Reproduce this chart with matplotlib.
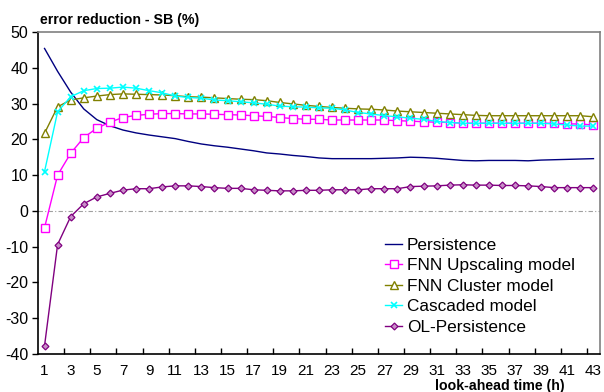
import matplotlib.pyplot as plt
import numpy as np

plt.rcParams['font.family'] = ['Liberation Sans', 'DejaVu Sans']
plt.rcParams['axes.unicode_minus'] = False

hours = list(range(1, 44))

persistence = [45.4, 39.0, 33.2, 28.5, 25.5, 23.8, 22.6, 21.8, 21.2, 20.7,
               20.2, 19.4, 18.7, 18.2, 17.8, 17.3, 16.8, 16.2, 15.9, 15.5,
               15.2, 14.8, 14.6, 14.6, 14.6, 14.6, 14.7, 14.8, 15.0, 14.9,
               14.7, 14.4, 14.1, 14.0, 14.1, 14.1, 14.1, 14.0, 14.2, 14.3,
               14.4, 14.5, 14.6]

fnn_upscaling = [-4.7, 10.0, 16.1, 20.5, 23.1, 24.8, 26.1, 26.7, 27.0, 27.2,
                 27.2, 27.1, 27.1, 27.0, 26.9, 26.8, 26.6, 26.4, 26.1, 25.8,
                 25.6, 25.6, 25.4, 25.4, 25.4, 25.4, 25.4, 25.2, 25.1, 24.9,
                 24.8, 24.7, 24.5, 24.5, 24.5, 24.5, 24.5, 24.5, 24.5, 24.5,
                 24.3, 24.3, 24.0]

fnn_cluster = [21.7, 29.1, 31.0, 31.6, 32.1, 32.5, 32.7, 32.6, 32.5, 32.4,
               32.2, 31.9, 31.8, 31.6, 31.4, 31.2, 31.1, 30.8, 30.3, 29.9,
               29.5, 29.2, 28.9, 28.7, 28.5, 28.4, 28.2, 27.9, 27.7, 27.5,
               27.3, 27.1, 26.9, 26.7, 26.6, 26.6, 26.6, 26.6, 26.6, 26.6,
               26.6, 26.6, 26.3]

cascaded = [11.0, 27.7, 31.9, 33.6, 34.2, 34.3, 34.6, 34.3, 33.6, 33.0,
            32.1, 31.7, 31.5, 31.0, 30.8, 30.5, 30.2, 29.8, 29.3, 29.1,
            29.0, 28.8, 28.7, 28.2, 27.5, 27.1, 26.6, 26.3, 25.9, 25.6,
            25.0, 24.7, 24.5, 24.5, 24.5, 24.5, 24.5, 24.5, 24.5, 24.3,
            24.0, 23.7, 23.7]

ol_persistence = [-37.7, -9.4, -1.6, 2.0, 3.9, 4.9, 5.8, 6.2, 6.2, 6.7,
                  7.0, 7.0, 6.8, 6.5, 6.3, 6.3, 5.9, 5.75, 5.6, 5.6,
                  5.75, 5.75, 5.9, 5.9, 5.9, 6.2, 6.2, 6.2, 6.8, 6.9,
                  7.0, 7.2, 7.3, 7.2, 7.2, 7.1, 7.1, 7.0, 6.8, 6.5,
                  6.5, 6.5, 6.5]

fig = plt.figure(figsize=(6.04, 3.92), dpi=100)
ax = fig.add_axes([38 / 604, 38 / 392, 562 / 604, 322 / 392])

ax.axhline(0, color='#a0a0a0', lw=0.8, ls=(0, (4, 2, 1, 2)), zorder=1)

ax.plot(hours, persistence, color='#000080', lw=1.0, label='Persistence')
ax.plot(hours, fnn_upscaling, color='#ff00ff', lw=1.0, marker='s', ms=6,
        mfc='white', mec='#ff00ff', mew=1.0, label='FNN Upscaling model')
ax.plot(hours, fnn_cluster, color='#808000', lw=1.0, marker='^', ms=6,
        mfc='white', mec='#808000', mew=1.0, label='FNN Cluster model')
ax.plot(hours, cascaded, color='#00ffff', lw=1.0, marker='x', ms=5,
        mew=1.2, label='Cascaded model')
ax.plot(hours, ol_persistence, color='#800080', lw=1.0, marker='D', ms=3.5,
        mfc='#c890c8', mec='#800080', mew=0.9, label='OL-Persistence')

ax.set_xlim(0.5, 43.5)
ax.set_ylim(-40, 50)
ax.set_yticks(np.arange(-40, 51, 10))
ax.set_xticks(range(1, 44, 2))
ax.set_xticks(np.arange(2.5, 43.5, 2), minor=True)
ax.tick_params(axis='x', which='major', length=0, pad=7, labelsize=11)
ax.tick_params(axis='x', which='minor', direction='in', length=4, width=1)
ax.tick_params(axis='y', direction='out', length=4, width=1, labelsize=11.5,
               pad=3)

for side in ['top', 'right']:
    ax.spines[side].set_color('#808080')
    ax.spines[side].set_linewidth(1.2)
for side in ['left', 'bottom']:
    ax.spines[side].set_color('black')
    ax.spines[side].set_linewidth(1.2)

fig.text(40 / 604, 1 - 20 / 392, 'error reduction - SB (%)', fontsize=10.2,
         fontweight='bold', va='center', ha='left')
fig.text(565 / 604, 1 - 386 / 392, 'look-ahead time (h)', fontsize=10.2,
         fontweight='bold', va='center', ha='right')

ax.legend(loc='lower right', bbox_to_anchor=(0.955, 0.059), frameon=False,
          fontsize=12.4, handlelength=1.0, handletextpad=0.25, labelspacing=0.32,
          borderaxespad=0, borderpad=0)

fig.savefig('out.png', dpi=100)
